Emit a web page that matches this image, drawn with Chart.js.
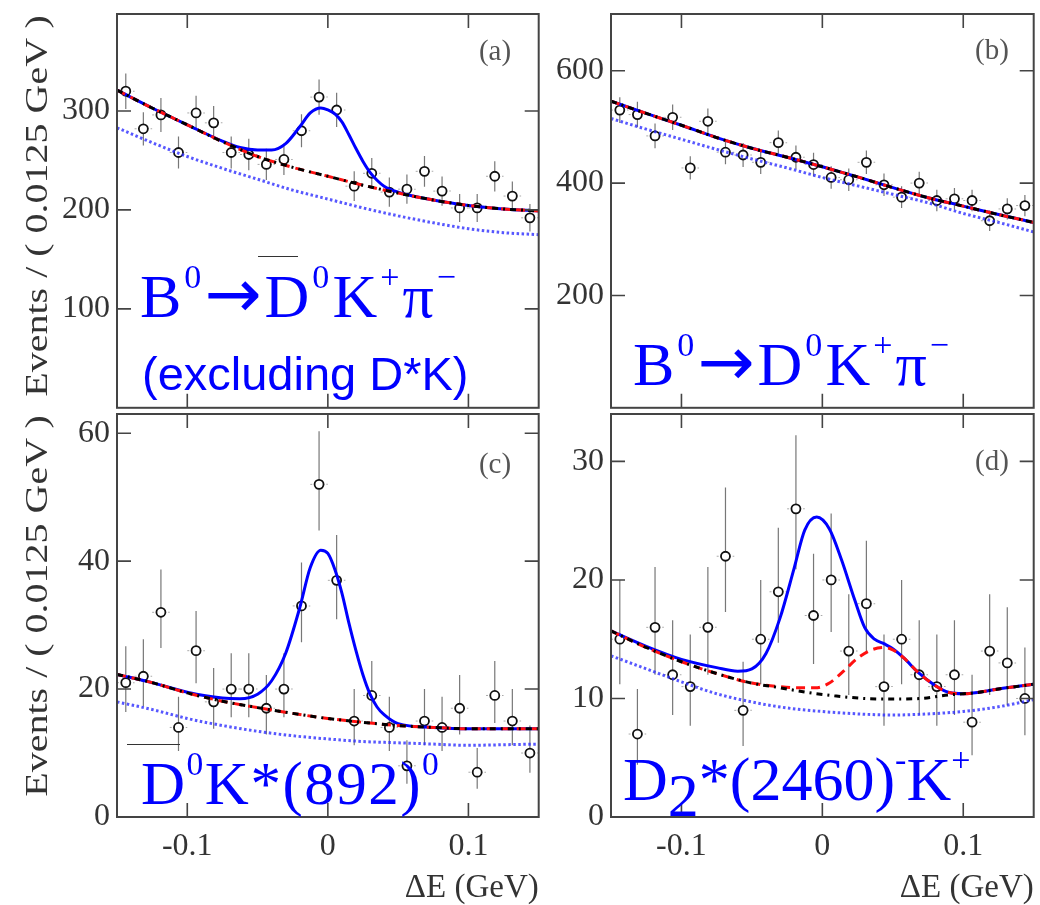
<!DOCTYPE html>
<html>
<head>
<meta charset="utf-8">
<title>Delta E fits</title>
<script src="https://cdn.jsdelivr.net/npm/chart.js@4.4.1/dist/chart.umd.min.js"></script>
<style>
  html, body { margin: 0; padding: 0; background: #fff; }
  #page { position: relative; width: 1040px; height: 905px; overflow: hidden; background: #fff; }
  #page canvas { position: absolute; }
  .ytitle { position: absolute; font-family: 'Liberation Serif', serif; font-size: 40px; line-height: 1; color: #333; white-space: nowrap;
            transform: translate(-50%, -50%) rotate(-90deg) scale(1, 0.8); }
  .tag { position: absolute; width: 60px; text-align: center; font-family: 'Liberation Serif', serif; font-size: 29px; line-height: 1; color: #555; }
  .big { position: absolute; font-family: 'Liberation Serif', serif; line-height: 1; color: #0000ff; white-space: nowrap; }
  .big .up { font-size: 0.55em; position: relative; top: -0.85em; }
  .big .dn { position: relative; top: 0.25em; }
  .big .arr { font-family: 'DejaVu Sans', sans-serif; font-size: 1.1em; }
  .sans { position: absolute; font-family: 'Liberation Sans', sans-serif; line-height: 1; color: #0000ff; white-space: nowrap; }
  .bar { position: absolute; height: 0; border-top: 1.5px solid #333; }
</style>
</head>
<body>
<div id="page">
  <canvas id="pa" width="545" height="418" style="left:0px;top:0px"></canvas>
  <canvas id="pb" width="495" height="418" style="left:545px;top:0px"></canvas>
  <canvas id="pc" width="545" height="505" style="left:0px;top:400px"></canvas>
  <canvas id="pd" width="495" height="505" style="left:545px;top:400px"></canvas>

  <div class="ytitle" style="left:37px;top:206px">Events / ( 0.0125 GeV )</div>
  <div class="ytitle" style="left:37px;top:606px">Events / ( 0.0125 GeV )</div>

  <div class="tag" style="left:465px;top:36px">(a)</div>
  <div class="tag" style="left:962px;top:35px">(b)</div>
  <div class="tag" style="left:465px;top:449px">(c)</div>
  <div class="tag" style="left:962px;top:446px">(d)</div>

  <div class="big" style="left:140px;top:260px;font-size:62px;letter-spacing:3px">B<span class="up">0</span><span class="arr">→</span>D<span class="up">0</span>K<span class="up">+</span>π<span class="up">−</span></div>
  <div class="bar" style="left:258px;top:256px;width:40px"></div>
  <div class="sans" style="left:142px;top:350px;font-size:47px">(excluding D*K)</div>

  <div class="big" style="left:633px;top:328px;font-size:62px;letter-spacing:3px">B<span class="up">0</span><span class="arr">→</span>D<span class="up">0</span>K<span class="up">+</span>π<span class="up">−</span></div>

  <div class="bar" style="left:127px;top:744px;width:53px"></div>
  <div class="big" style="left:141px;top:753px;font-size:61px;letter-spacing:1.5px">D<span class="up">0</span>K*(892)<span class="up">0</span></div>

  <div class="big" style="left:623px;top:748px;font-size:62px">D<span class="dn">2</span>*(2460)<span class="up">-</span>K<span class="up">+</span></div>
</div>

<script>
// bin centres of the 24 ΔE bins (0.0125 GeV wide)
const binCenters = [-0.14375, -0.13125, -0.11875, -0.10625, -0.09375, -0.08125, -0.06875, -0.05625,
  -0.04375, -0.03125, -0.01875, -0.00625, 0.00625, 0.01875, 0.03125, 0.04375,
  0.05625, 0.06875, 0.08125, 0.09375, 0.10625, 0.11875, 0.13125, 0.14375];
const binHalf = 0.00625;

// x grid for the smooth background curves
const gridX = [-0.15, -0.125, -0.1, -0.075, -0.05, -0.025, 0, 0.025, 0.05, 0.075, 0.1, 0.125, 0.15];

// (a) B0 -> D0bar K+ pi-
const aCounts = [320, 282, 296, 258, 298, 288, 258, 256, 246, 251, 280, 314, 301, 224, 237, 218, 221, 239, 219, 202, 202, 234, 214, 192];
const aErr = [17.9, 16.8, 17.2, 16.1, 17.3, 17.0, 16.1, 16.0, 15.7, 15.8, 16.7, 17.7, 17.3, 15.0, 15.4, 14.8, 14.9, 15.5, 14.8, 14.2, 14.2, 15.3, 14.6, 13.9];
const aBkg = [321, 303, 286, 269, 254, 243, 234, 225, 217, 210, 204.5, 201, 199];
const aComb = [283, 268, 254, 242, 231, 220, 211, 202, 194, 187, 181, 177, 175];
const aTotX = [-0.15, -0.125, -0.1, -0.075, -0.0625, -0.05, -0.04, -0.03, -0.02, -0.0125, -0.005, 0, 0.005, 0.01, 0.015, 0.02, 0.025, 0.03, 0.035, 0.04, 0.05, 0.075, 0.1, 0.125, 0.15];
const aTot = [321, 303, 286, 269.5, 263, 260.5, 260.5, 267, 284, 298, 303, 301, 297, 289, 276, 262, 249, 238, 230, 224, 218, 210, 204.5, 201, 199];

// (b) B0 -> D0 K+ pi-
const bCounts = [530, 522, 484, 517, 427, 510, 455, 450, 437, 472, 446, 433, 410, 406, 437, 397, 375, 400, 369, 372, 369, 333, 354, 360];
const bErr = [23.0, 22.8, 22.0, 22.7, 20.7, 22.6, 21.3, 21.2, 20.9, 21.7, 21.1, 20.8, 20.2, 20.1, 20.9, 19.9, 19.4, 20.0, 19.2, 19.3, 19.2, 18.2, 18.8, 19.0];
const bBkg = [546, 524, 503, 481, 462, 446, 429, 411, 392, 374, 359, 344, 330];
const bComb = [515, 496, 478, 460, 443, 427, 410, 395, 380, 365, 346, 330, 313];

// (c) D0 K*(892)0
const cCounts = [21, 22, 32, 14, 26, 18, 20, 20, 17, 20, 33, 52, 37, 15, 19, 14, 8, 15, 14, 17, 7, 19, 15, 10];
const cHi = [5.7, 5.8, 6.7, 4.8, 6.2, 5.3, 5.6, 5.6, 5.2, 5.6, 6.8, 8.3, 7.1, 5.0, 5.4, 4.8, 4.0, 5.0, 4.8, 5.2, 3.8, 5.4, 5.0, 4.3];
const cLo = [4.6, 4.7, 5.6, 3.7, 5.1, 4.2, 4.4, 4.4, 4.1, 4.4, 5.7, 7.2, 6.1, 3.8, 4.3, 3.7, 2.8, 3.8, 3.7, 4.1, 2.6, 4.3, 3.8, 3.1];
const cBkg = [22.3, 21, 19.4, 18.1, 17.1, 16.2, 15.4, 14.8, 14.3, 14, 13.8, 13.8, 13.8];
const cComb = [18, 16.8, 15.4, 14.3, 13.4, 12.7, 12.2, 11.8, 11.6, 11.4, 11.2, 11.3, 11.4];
const cTotX = [-0.15, -0.125, -0.1, -0.075, -0.0625, -0.05, -0.04, -0.03, -0.02, -0.0125, -0.005, 0, 0.005, 0.01, 0.015, 0.02, 0.025, 0.03, 0.035, 0.04, 0.05, 0.075, 0.1, 0.125, 0.15];
const cTot = [22.3, 21, 19.5, 18.6, 18.5, 19.2, 21.3, 25.6, 32.7, 39, 41.7, 41.2, 38.7, 35, 30.3, 26, 22.2, 19.2, 17.2, 16, 14.6, 14, 13.8, 13.8, 13.8];

// (d) D2*(2460)- K+
const dCounts = [15, 7, 16, 12, 11, 16, 22, 9, 15, 19, 26, 17, 20, 14, 18, 11, 15, 12, 11, 12, 8, 14, 13, 10];
const dHi = [5.0, 3.8, 5.1, 4.6, 4.4, 5.1, 5.8, 4.1, 5.0, 5.4, 6.2, 5.2, 5.6, 4.8, 5.3, 4.4, 5.0, 4.6, 4.4, 4.6, 4.0, 4.8, 4.7, 4.3];
const dLo = [3.8, 2.6, 4.0, 3.4, 3.3, 4.0, 4.7, 3.0, 3.8, 4.3, 5.1, 4.1, 4.4, 3.7, 4.2, 3.3, 3.8, 3.4, 3.3, 3.4, 2.8, 3.7, 3.6, 3.1];
const dComb = [13.6, 12.5, 11.4, 10.4, 9.7, 9.2, 8.9, 8.7, 8.6, 8.7, 8.9, 9.3, 9.9];
const dTotX = [-0.15, -0.125, -0.1, -0.075, -0.06, -0.05, -0.04, -0.03, -0.02, -0.0125, -0.004, 0.005, 0.0136, 0.023, 0.03, 0.037, 0.044, 0.05, 0.058, 0.068, 0.08, 0.09, 0.1, 0.11, 0.125, 0.15];
const dTot = [15.7, 14.4, 13.3, 12.6, 12.3, 12.5, 13.8, 16.8, 21, 24.2, 25.3, 24.3, 21.7, 18.3, 16, 15, 14.6, 14.2, 13.4, 12.2, 11.1, 10.5, 10.4, 10.5, 10.8, 11.2];
const dRedX = [-0.15, -0.125, -0.1, -0.075, -0.05, -0.03, -0.015, -0.005, 0.005, 0.015, 0.025, 0.035, 0.044, 0.05, 0.058, 0.068, 0.08, 0.09, 0.1, 0.11, 0.125, 0.15];
const dRed = [15.7, 14.3, 13.1, 12.1, 11.3, 11.0, 10.9, 10.9, 11.3, 12.3, 13.4, 14.1, 14.3, 14.1, 13.4, 12.2, 11.1, 10.5, 10.4, 10.5, 10.8, 11.2];
const dBlkX = [-0.15, -0.125, -0.1, -0.075, -0.05, -0.03, -0.01, 0.01, 0.03, 0.05, 0.07, 0.09, 0.1, 0.11, 0.125, 0.15];
const dBlk = [15.7, 14.3, 13.1, 12.1, 11.3, 10.9, 10.5, 10.2, 10.0, 9.95, 10.0, 10.3, 10.4, 10.5, 10.8, 11.2];

const panels = {
  pa: { counts: aCounts, hi: aErr, lo: aErr, comb: [gridX, aComb], tot: [aTotX, aTot], red: [gridX, aBkg], blk: [gridX, aBkg],
        yMax: 398, yStep: 20, yMajor: 100, yAxisW: 117, padRight: 4, showZero: false, showX: false },
  pb: { counts: bCounts, hi: bErr, lo: bErr, comb: [gridX, bComb], tot: [gridX, bBkg], red: [gridX, bBkg], blk: [gridX, bBkg],
        yMax: 701, yStep: 50, yMajor: 200, yAxisW: 66, padRight: 3, showZero: false, showX: false },
  pc: { counts: cCounts, hi: cHi, lo: cLo, comb: [gridX, cComb], tot: [cTotX, cTot], red: [gridX, cBkg], blk: [gridX, cBkg],
        yMax: 63, yStep: 5, yMajor: 20, yAxisW: 117, padRight: 4, showZero: true, showX: true },
  pd: { counts: dCounts, hi: dHi, lo: dLo, comb: [gridX, dComb], tot: [dTotX, dTot], red: [dRedX, dRed], blk: [dBlkX, dBlk],
        yMax: 34, yStep: 2, yMajor: 10, yAxisW: 66, padRight: 3, showZero: true, showX: true },
};

const xMin = -0.15, xMax = 0.15, xStep = 0.02, xMajor = 0.1;
const axisColor = '#444';
const labelFont = { family: 'Liberation Serif', size: 32, lineHeight: 0.2 };

function isMajor(v, m) {
  return Math.abs(v / m - Math.round(v / m)) < 1e-6;
}

function stepTicks(min, max, step) {
  const out = [];
  for (let k = Math.ceil(min / step - 1e-9); k * step < max - 1e-9; k++) {
    out.push(+(k * step).toFixed(6));
  }
  return out;
}

function pts(xs, ys) {
  return xs.map((x, i) => ({ x, y: ys[i] }));
}

// error bars under the markers, frame + inward ticks on all four sides
const hepFrame = {
  id: 'hepFrame',
  beforeDatasetsDraw(chart) {
    const p = panels[chart.canvas.id];
    const { ctx, chartArea: a, scales: { x, y } } = chart;
    ctx.save();
    ctx.beginPath();
    ctx.rect(a.left, a.top, a.width, a.height);
    ctx.clip();
    binCenters.forEach((bc, i) => {
      const px = x.getPixelForValue(bc);
      const py = y.getPixelForValue(p.counts[i]);
      ctx.setLineDash([]);
      ctx.strokeStyle = '#777';
      ctx.lineWidth = 1.2;
      ctx.beginPath();
      ctx.moveTo(px, y.getPixelForValue(p.counts[i] + p.hi[i]));
      ctx.lineTo(px, y.getPixelForValue(p.counts[i] - p.lo[i]));
      ctx.stroke();
      ctx.setLineDash([2, 2]);
      ctx.strokeStyle = '#aaa';
      ctx.lineWidth = 1;
      ctx.beginPath();
      ctx.moveTo(x.getPixelForValue(bc - binHalf), py);
      ctx.lineTo(x.getPixelForValue(bc + binHalf), py);
      ctx.stroke();
    });
    ctx.restore();
  },
  afterDraw(chart) {
    const p = panels[chart.canvas.id];
    const { ctx, chartArea: a, scales: { x, y } } = chart;
    ctx.save();
    ctx.strokeStyle = axisColor;
    ctx.lineWidth = 1.6;
    x.ticks.forEach(t => {
      if (t.value <= xMin + 1e-9 || t.value >= xMax - 1e-9) return;
      const px = x.getPixelForValue(t.value);
      const len = isMajor(t.value, xMajor) ? 14 : 7;
      ctx.beginPath();
      ctx.moveTo(px, a.bottom); ctx.lineTo(px, a.bottom - len);
      ctx.moveTo(px, a.top); ctx.lineTo(px, a.top + len);
      ctx.stroke();
    });
    y.ticks.forEach(t => {
      if (t.value <= 1e-9 || t.value >= p.yMax - 1e-9) return;
      const py = y.getPixelForValue(t.value);
      const len = isMajor(t.value, p.yMajor) ? 14 : 7;
      ctx.beginPath();
      ctx.moveTo(a.left, py); ctx.lineTo(a.left + len, py);
      ctx.moveTo(a.right, py); ctx.lineTo(a.right - len, py);
      ctx.stroke();
    });
    ctx.lineWidth = 2;
    ctx.strokeRect(a.left, a.top, a.width, a.height);
    ctx.restore();
  }
};

function makePanel(id) {
  const p = panels[id];
  const curve = { pointRadius: 0, borderWidth: 3, fill: false, cubicInterpolationMode: 'monotone', clip: 0 };
  return new Chart(document.getElementById(id), {
    type: 'line',
    data: {
      datasets: [
        { ...curve, label: 'fit: other', data: pts(p.blk[0], p.blk[1]), borderColor: '#000', borderDash: [6, 5, 2, 5], order: 1 },
        { ...curve, label: 'fit: background', data: pts(p.red[0], p.red[1]), borderColor: '#ff1010', borderDash: [9, 6], order: 2 },
        { ...curve, label: 'fit: total', data: pts(p.tot[0], p.tot[1]), borderColor: '#0000ff', order: 3 },
        { ...curve, label: 'fit: combinatorial', data: pts(p.comb[0], p.comb[1]), borderColor: 'rgba(45,45,255,0.8)', borderDash: [2.5, 2.5], order: 4 },
        { label: 'data', data: pts(binCenters, p.counts), showLine: false, pointRadius: 4.5, pointBorderWidth: 1.8,
          pointBorderColor: '#111', pointBackgroundColor: '#fff', borderColor: '#111', backgroundColor: '#fff', order: 5 },
      ]
    },
    options: {
      responsive: false,
      animation: false,
      events: [],
      layout: { padding: { top: 14, right: p.padRight, left: 0, bottom: 0 } },
      plugins: { legend: { display: false }, tooltip: { enabled: false } },
      scales: {
        x: {
          type: 'linear', min: xMin, max: xMax,
          grid: { display: false, drawTicks: false }, border: { display: false },
          afterBuildTicks: s => { s.ticks = stepTicks(xMin, xMax, xStep).map(v => ({ value: v })); },
          afterFit: s => { s.height = p.showX ? 88 : 10; },
          ticks: {
            display: p.showX, autoSkip: false, maxRotation: 0, minRotation: 0, padding: 10,
            font: { family: 'Liberation Serif', size: 32 }, color: '#333',
            callback: v => isMajor(v, xMajor) ? String(Math.round(v * 10) / 10) : null
          },
          title: {
            display: p.showX, text: 'ΔE (GeV)', align: 'end', color: '#333',
            font: { family: 'Liberation Serif', size: 33, lineHeight: 1 }, padding: { top: 0, bottom: 0 }
          }
        },
        y: {
          type: 'linear', min: 0, max: p.yMax,
          grid: { display: false, drawTicks: false }, border: { display: false },
          afterBuildTicks: s => { s.ticks = stepTicks(0, p.yMax, p.yStep).map(v => ({ value: v })); },
          afterFit: s => { s.width = p.yAxisW; },
          ticks: {
            autoSkip: false, padding: 7, font: labelFont, color: '#333',
            callback: v => (isMajor(v, p.yMajor) && (v > 0 || p.showZero)) ? String(Math.round(v)) : null
          }
        }
      }
    },
    plugins: [hepFrame]
  });
}

document.fonts.load('32px "Liberation Serif"').then(() => {
  ['pa', 'pb', 'pc', 'pd'].forEach(makePanel);
});
</script>
</body>
</html>
